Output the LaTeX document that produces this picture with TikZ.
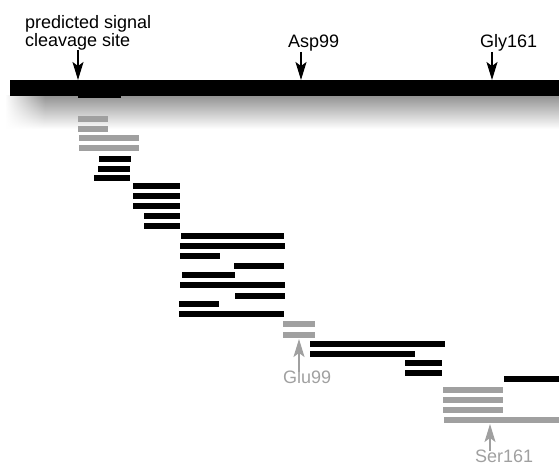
\documentclass[tikz,border=0pt]{standalone}
\usepackage{fontspec}
\setmainfont{Liberation Sans}
\definecolor{pepgray}{RGB}{160, 160, 160}
\usetikzlibrary{arrows.meta, positioning, calc, fadings}
\tikzfading[name=fadeleft, left color=transparent!0, right color=transparent!100]
\tikzset{
  site/.style={font=\fontsize{18}{18}\selectfont, inner sep=0pt},
  sitearrow/.style={line width=1.5pt, -{Stealth[length=18pt, width=11pt, inset=4pt]}},
}

\begin{document}
\begin{tikzpicture}[x=1pt, y=-1pt]
  \useasboundingbox (0,0) rectangle (559,465);

  % shadow and protein bar
  \shade[top color=black!42, bottom color=white] (6,96) rectangle (559,129);
  \fill[white, path fading=fadeleft] (5,94) rectangle (45,130);
  \fill[black] (10,80) rectangle (559,96);
  \fill[black] (78,96) rectangle (121,98);

  % peptides: x1/x2/y/colour
  \foreach \xa/\xb/\ya/\col in {
      78/108/116/pepgray, 78/108/126/pepgray, 79/139/135/pepgray, 79/139/145/pepgray,
      99/131/156/black, 98/130/166/black, 94/130/175/black,
      133/180/183/black, 133/180/193/black, 133/180/203/black, 144/180/213/black, 144/180/223/black,
      181/284/233/black, 180/285/243/black, 180/220/253/black, 234/284/263/black,
      182/235/272/black, 180/285/282/black, 235/285/293/black, 179/219/301/black, 179/284/311/black,
      283/315/321/pepgray, 283/315/332/pepgray,
      310/445/341/black, 310/415/351/black, 405/442/360/black, 405/442/370/black, 504/559/376/black,
      443/503/387/pepgray, 443/503/397/pepgray, 443/503/407/pepgray, 444/559/417/pepgray}
    \fill[\col] (\xa,\ya) rectangle (\xb,{\ya+6});

  % sites on the precursor
  \node[site, anchor=north west, align=left] (cleave) at (25,15) {predicted signal\\cleavage site};
  \node[site, anchor=base west] (asp) at (288,48) {Asp99};
  \node[site, anchor=base west] (gly) at (480,48) {Gly161};
  \coordinate (cleavecut) at (78,80);
  \coordinate (aspcut) at (301,80);
  \coordinate (glycut) at (492,80);
  \draw[sitearrow] (cleave.south -| cleavecut) -- (cleavecut);
  \draw[sitearrow] (asp.south -| aspcut) -- (aspcut);
  \draw[sitearrow] (gly.south -| glycut) -- (glycut);

  % sites on the peptides
  \node[site, anchor=base west, text=pepgray] (glu) at (283,383) {Glu99};
  \node[site, anchor=base west, text=pepgray] (ser) at (475,462) {Ser161};
  \coordinate (glucut) at (299,339);
  \coordinate (sercut) at (490,424);
  \draw[sitearrow, pepgray] ([yshift=-2pt]glu.north -| glucut) -- (glucut);
  \draw[sitearrow, pepgray] ([yshift=-2pt]ser.north -| sercut) -- (sercut);
\end{tikzpicture}
\end{document}
